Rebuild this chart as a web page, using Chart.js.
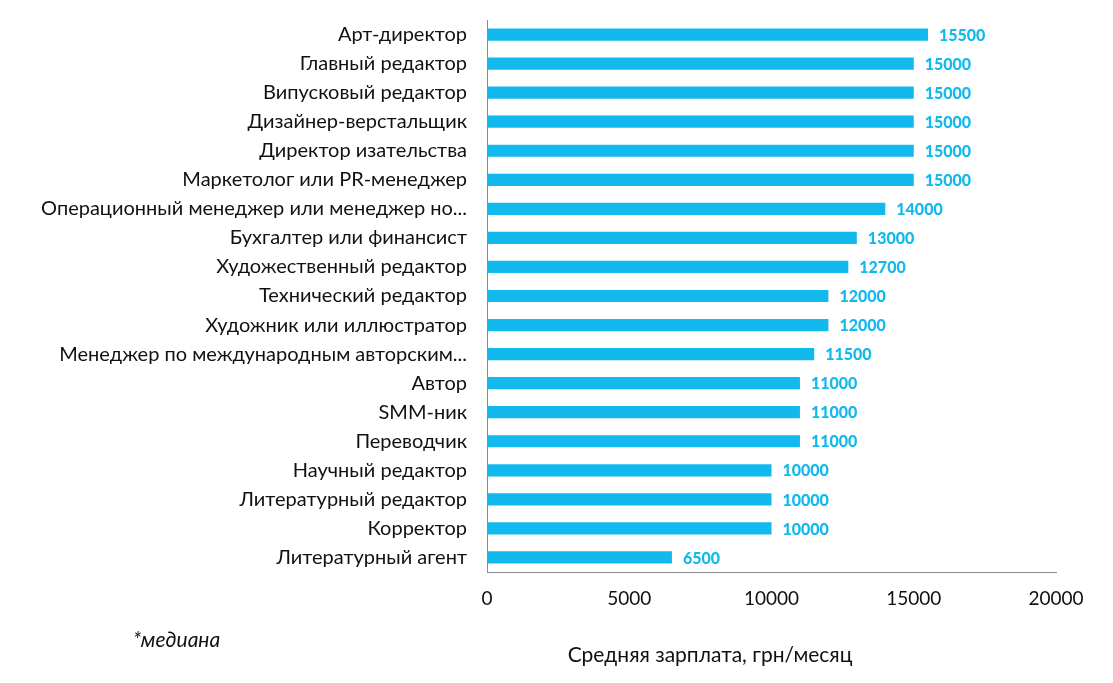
<!DOCTYPE html>
<html>
<head>
<meta charset="utf-8">
<script src="https://cdn.jsdelivr.net/npm/chart.js@4"></script>
<style>
  html, body { margin: 0; padding: 0; background: #fff; }
  #wrap { width: 1113px; height: 683px; position: relative; }
</style>
</head>
<body>
<div id="wrap"><canvas id="salaryChart"></canvas></div>
<script>
const categories = [
    'Арт-директор',
    'Главный редактор',
    'Випусковый редактор',
    'Дизайнер-верстальщик',
    'Директор изательства',
    'Маркетолог или PR-менеджер',
    'Операционный менеджер или менеджер но...',
    'Бухгалтер или финансист',
    'Художественный редактор',
    'Технический редактор',
    'Художник или иллюстратор',
    'Менеджер по международным авторским...',
    'Автор',
    'SMM-ник',
    'Переводчик',
    'Научный редактор',
    'Литературный редактор',
    'Корректор',
    'Литературный агент'
];
const salaries = [15500, 15000, 15000, 15000, 15000, 15000, 14000, 13000, 12700, 12000, 12000, 11500, 11000, 11000, 11000, 10000, 10000, 10000, 6500];
const xTicks = [0, 5000, 10000, 15000, 20000];

const axisTitle = 'Средняя зарплата, грн/месяц';
const footnote = '*медиана';

const barColor = '#12B9EC';
const fontFamily = 'Lato, "Open Sans", sans-serif';

// Value labels at the end of each bar + axis title and footnote
const extraText = {
    id: 'extraText',
    afterDatasetsDraw(chart) {
        const ctx = chart.ctx;
        const meta = chart.getDatasetMeta(0);
        ctx.save();
        ctx.fillStyle = barColor;
        ctx.font = '900 16px ' + fontFamily;
        ctx.textAlign = 'left';
        ctx.textBaseline = 'middle';
        meta.data.forEach((bar, i) => {
            ctx.fillText(salaries[i], bar.x + 11, bar.y + 1);
        });

        const area = chart.chartArea;
        ctx.fillStyle = '#111';
        ctx.font = '21px ' + fontFamily;
        ctx.textAlign = 'center';
        ctx.fillText(axisTitle, area.left + 223, area.bottom + 83);

        ctx.font = 'italic 21px ' + fontFamily;
        ctx.textAlign = 'left';
        ctx.fillText(footnote, 133, area.bottom + 68);
        ctx.restore();
    }
};

new Chart(document.getElementById('salaryChart'), {
    type: 'bar',
    data: {
        labels: categories,
        datasets: [{
            data: salaries,
            backgroundColor: barColor,
            barPercentage: 0.42,
            categoryPercentage: 1.0
        }]
    },
    options: {
        indexAxis: 'y',
        responsive: true,
        maintainAspectRatio: false,
        animation: false,
        layout: { padding: { top: 20, right: 57, left: 0, bottom: 0 } },
        plugins: {
            legend: { display: false },
            tooltip: { enabled: false }
        },
        scales: {
            x: {
                min: 0,
                max: 20000,
                afterBuildTicks: scale => { scale.ticks = xTicks.map(v => ({ value: v })); },
                afterFit: scale => { scale.height = 111; },
                grid: { display: false, drawTicks: false },
                border: { display: true, color: '#8c8c8c', width: 1 },
                ticks: {
                    color: '#111',
                    padding: 15,
                    maxRotation: 0,
                    callback: value => String(value),
                    font: { family: fontFamily, size: 19 }
                }
            },
            y: {
                afterFit: scale => {
                    scale.width = 487;
                    scale.paddingTop = 0;
                    scale.paddingBottom = 0;
                },
                grid: { display: false, drawTicks: false },
                border: { display: true, color: '#8c8c8c', width: 1 },
                ticks: {
                    color: '#111',
                    padding: 20,
                    autoSkip: false,
                    font: { family: fontFamily, size: 20 }
                }
            }
        }
    },
    plugins: [extraText]
});
</script>
</body>
</html>
